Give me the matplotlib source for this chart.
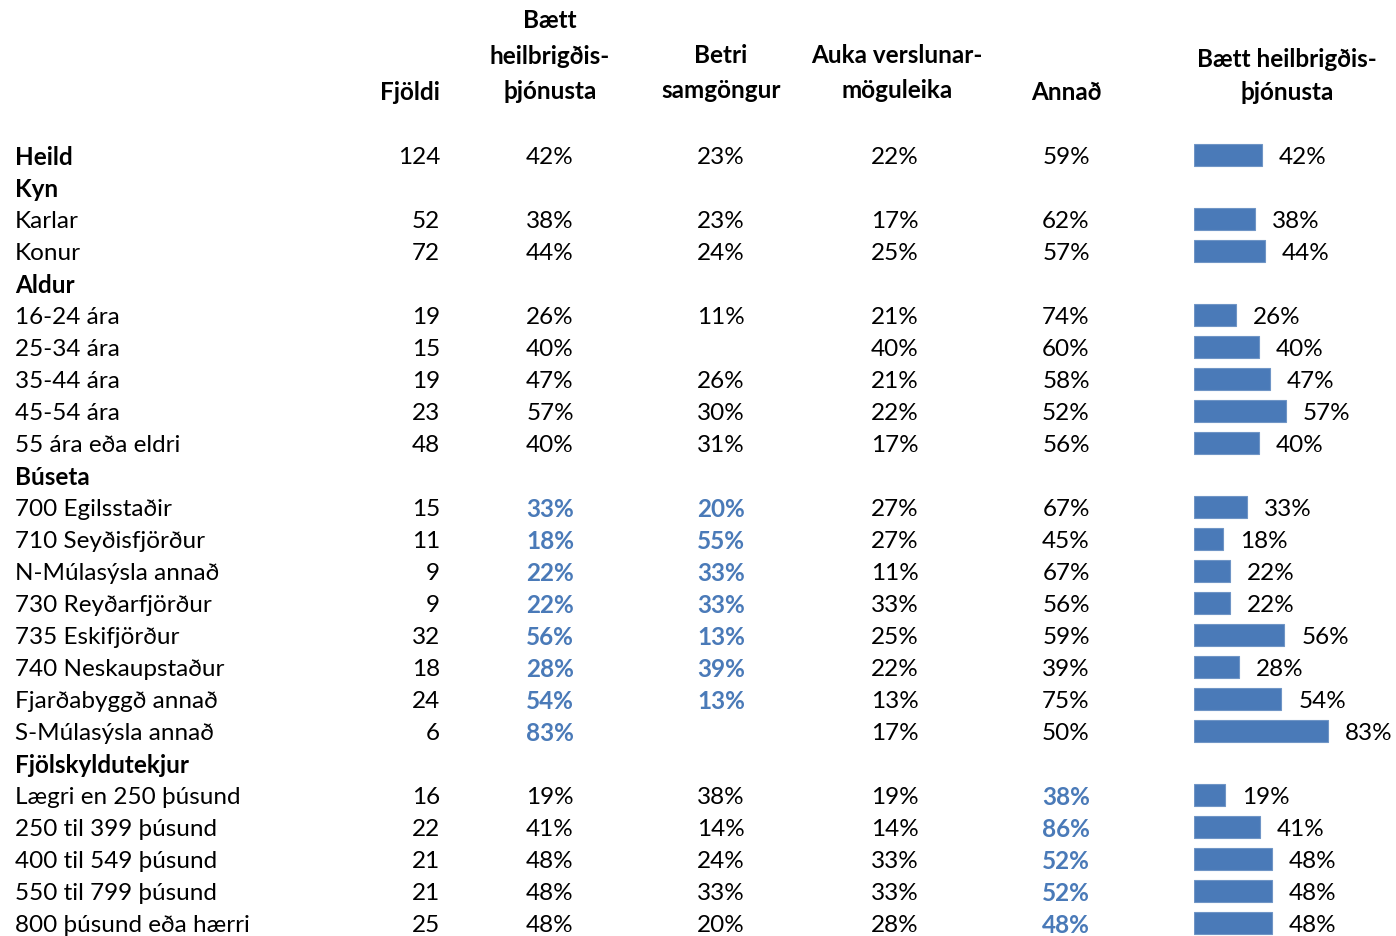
import matplotlib.pyplot as plt

plt.rcParams['font.family'] = ['Lato', 'DejaVu Sans']

# row labels; None in fjoldi marks a group heading
labels = ['Heild', 'Kyn', 'Karlar', 'Konur', 'Aldur', '16-24 ára', '25-34 ára', '35-44 ára',
          '45-54 ára', '55 ára eða eldri', 'Búseta', '700 Egilsstaðir', '710 Seyðisfjörður',
          'N-Múlasýsla annað', '730 Reyðarfjörður', '735 Eskifjörður', '740 Neskaupstaður',
          'Fjarðabyggð annað', 'S-Múlasýsla annað', 'Fjölskyldutekjur', 'Lægri en 250 þúsund',
          '250 til 399 þúsund', '400 til 549 þúsund', '550 til 799 þúsund', '800 þúsund eða hærri']
fjoldi = [124, None, 52, 72, None, 19, 15, 19, 23, 48, None, 15, 11, 9, 9, 32, 18, 24, 6,
          None, 16, 22, 21, 21, 25]
heilbrigdis = [42, None, 38, 44, None, 26, 40, 47, 57, 40, None, 33, 18, 22, 22, 56, 28, 54, 83,
               None, 19, 41, 48, 48, 48]
samgongur = [23, None, 23, 24, None, 11, None, 26, 30, 31, None, 20, 55, 33, 33, 13, 39, 13, None,
             None, 38, 14, 24, 33, 20]
verslun = [22, None, 17, 25, None, 21, 40, 21, 22, 17, None, 27, 27, 11, 33, 25, 22, 13, 17,
           None, 19, 14, 33, 33, 28]
annad = [59, None, 62, 57, None, 74, 60, 58, 52, 56, None, 67, 45, 67, 56, 59, 39, 75, 50,
         None, 38, 86, 52, 52, 48]
# which cells are highlighted in blue bold (column index -> rows)
highlight = {0: range(11, 19), 1: range(11, 19), 3: range(20, 25)}

blue = '#4a7ab8'
fig = plt.figure(figsize=(13.96, 9.36), dpi=100)
ax = fig.add_axes([0, 0, 1, 1])
top, bot = -156 / 32, (936 - 156) / 32
ax.set_xlim(0, 1396)
ax.set_ylim(bot, top)
ax.axis('off')

fs = 17.5
dy = 0.06
col_x = [550, 721, 895, 1066]
cols = [heilbrigdis, samgongur, verslun, annad]

# headers (rows are 32px apart, header lines in px)
def py(p):
    return (p - 156) / 32

hdr = dict(va='center', fontsize=fs, fontweight='bold', linespacing=1.68)
ax.text(440, py(92), 'Fjöldi', ha='right', **hdr)
ax.text(550, py(56), 'Bætt\nheilbrigðis-\nþjónusta', ha='center', **hdr)
ax.text(721, py(73), 'Betri\nsamgöngur', ha='center', **hdr)
ax.text(897, py(73), 'Auka verslunar-\nmöguleika', ha='center', **hdr)
ax.text(1066, py(92), 'Annað', ha='center', **hdr)
ax.text(1287, py(76), 'Bætt heilbrigðis-\nþjónusta', ha='center', va='center', fontsize=fs,
        fontweight='bold', linespacing=1.55)

for i, lab in enumerate(labels):
    bold = fjoldi[i] is None or i == 0
    ax.text(15, i + dy, lab, ha='left', va='center', fontsize=fs,
            fontweight='bold' if bold else 'normal')
    if fjoldi[i] is None:
        continue
    ax.text(440, i + dy, str(fjoldi[i]), ha='right', va='center', fontsize=fs)
    for c, (x, vals) in enumerate(zip(col_x, cols)):
        if vals[i] is None:
            continue
        hl = c in highlight and i in highlight[c]
        ax.text(x, i + dy, f'{vals[i]}%', ha='center', va='center', fontsize=fs,
                color=blue if hl else 'black', fontweight='bold' if hl else 'normal')

# bar column
px_per_pct = 1.615
bx = fig.add_axes([1194 / 1396, 0, (1396 - 1194) / 1396, 1])
bx.set_xlim(0, (1396 - 1194) / px_per_pct)
bx.set_ylim(bot, top)
bx.axis('off')
rows = [i for i in range(len(labels)) if heilbrigdis[i] is not None]
vals = [heilbrigdis[i] for i in rows]
bx.barh([r - 0.03 for r in rows], vals, height=0.69, color=blue, edgecolor='#6f95c6', linewidth=0.8)
for r, v in zip(rows, vals):
    bx.text(v + 10.5, r + dy, f'{v}%', ha='left', va='center', fontsize=fs)

fig.savefig('out.png', dpi=100)
